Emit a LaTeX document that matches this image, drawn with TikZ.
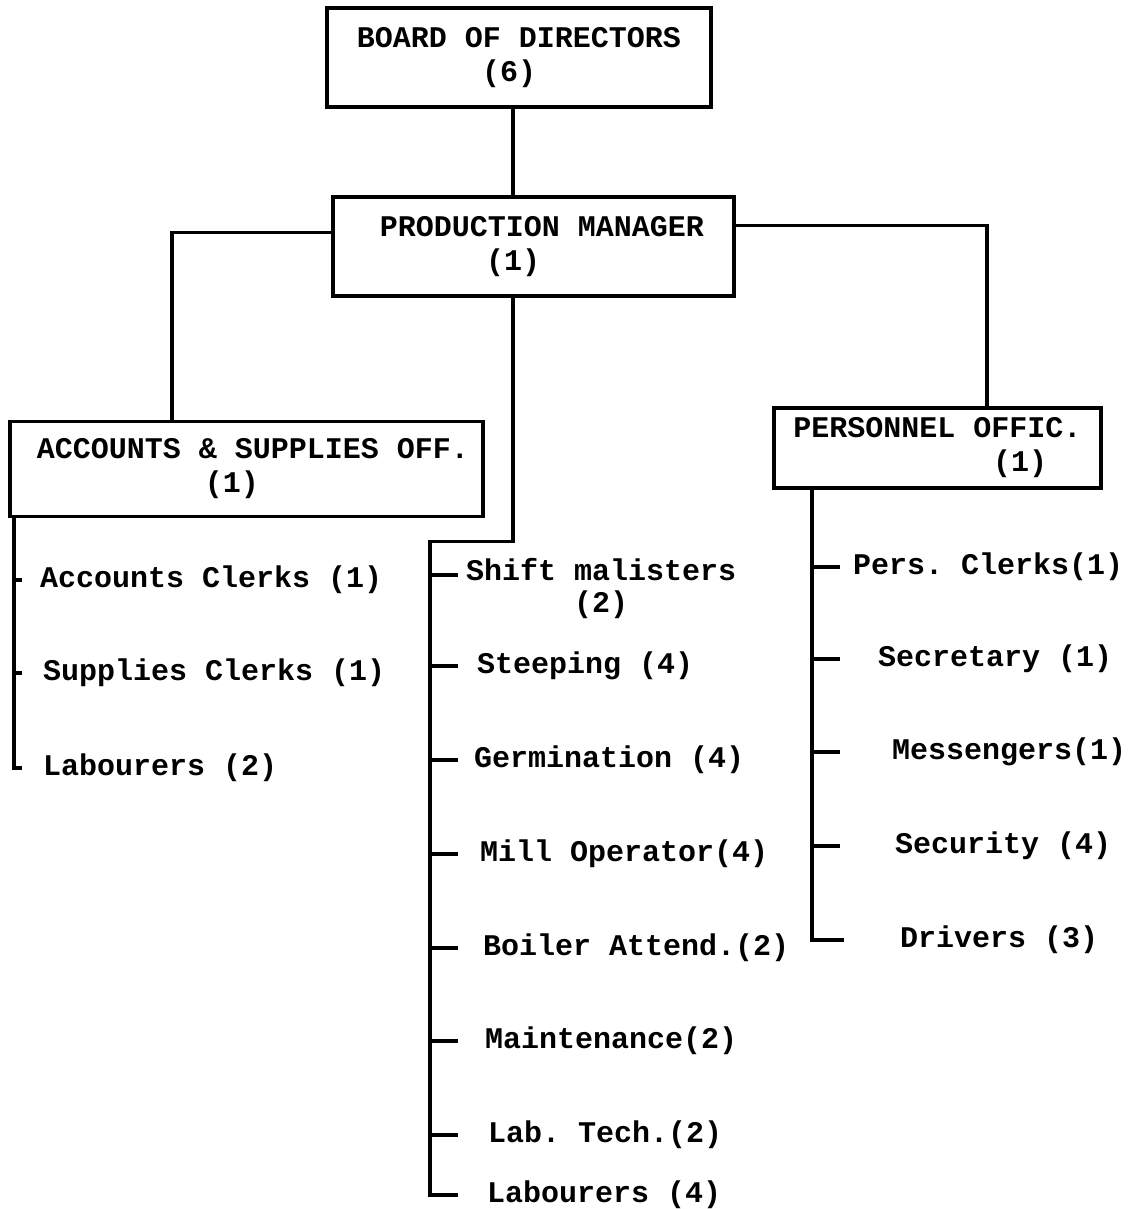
\documentclass[tikz,border=0pt]{standalone}
\usepackage{fontspec}
\setmonofont{Liberation Mono}
\usetikzlibrary{positioning}

\tikzset{
    post/.style={draw, line width=3.2pt, align=center, inner sep=0pt,
        font=\ttfamily\bfseries\fontsize{30}{34}\selectfont},
    staff/.style={anchor=west, inner sep=0pt, align=center,
        font=\ttfamily\bfseries\fontsize{30}{32}\selectfont},
    link/.style={line width=3.2pt},
}

\begin{document}
\begin{tikzpicture}[x=1pt,y=-1pt]
    \useasboundingbox (0,0) rectangle (1136,1209);

    %The offices
    \node[post, minimum width=384pt, minimum height=99pt] (board) at (519,57.5)
        {BOARD OF DIRECTORS\\(6)\hspace*{20pt}};
    \node[post, minimum width=401pt, minimum height=99pt] (pm) at (533.5,246.5)
        {\hspace*{17pt}PRODUCTION MANAGER\\(1)\hspace*{41pt}};
    \node[post, minimum width=473pt, minimum height=95pt] (acc) at (246.5,469)
        {\hspace*{13pt}ACCOUNTS \& SUPPLIES OFF.\\(1)\hspace*{29pt}};
    \node[post, minimum width=327pt, minimum height=80pt] (pers) at (937.5,448)
        {PERSONNEL OFFIC.\\\hspace*{165pt}(1)};

    %Staff under each office
    \node[staff] (acc-1) at (40,580) {Accounts Clerks (1)};
    \node[staff] (acc-2) at (43,673) {Supplies Clerks (1)};
    \node[staff] (acc-3) at (43,768) {Labourers (2)};

    \node[staff] (prod-1) at (466,589) {Shift malisters\\(2)};
    \node[staff] (prod-2) at (477,666) {Steeping (4)};
    \node[staff] (prod-3) at (474,760) {Germination (4)};
    \node[staff] (prod-4) at (480,854) {Mill Operator(4)};
    \node[staff] (prod-5) at (483,948) {Boiler Attend.(2)};
    \node[staff] (prod-6) at (485,1041) {Maintenance(2)};
    \node[staff] (prod-7) at (488,1135) {Lab. Tech.(2)};
    \node[staff] (prod-8) at (487,1195) {Labourers (4)};

    \node[staff] (pers-1) at (853,567) {Pers. Clerks(1)};
    \node[staff] (pers-2) at (878,659) {Secretary (1)};
    \node[staff] (pers-3) at (892,752) {Messengers(1)};
    \node[staff] (pers-4) at (895,846) {Security (4)};
    \node[staff] (pers-5) at (900,940) {Drivers (3)};

    %Where the vertical lines run
    \coordinate (spine) at (513,0);
    \coordinate (accdrop) at (172,0);
    \coordinate (persdrop) at (987,0);
    \coordinate (acctrunk) at (14,0);
    \coordinate (prodtrunk) at (430,0);
    \coordinate (perstrunk) at (812,0);

    \draw[link] (board.south -| spine) -- (pm.north -| spine);
    \draw[link] ([yshift=14pt]pm.west) -| (acc.north -| accdrop);
    \draw[link] ([yshift=21pt]pm.east) -| (pers.north -| persdrop);

    \draw[link] (acc.south -| acctrunk) -- (acc-3.west -| acctrunk) -- ++(8,0);
    \draw[link] (acc-1.west -| acctrunk) -- ++(8,0);
    \draw[link] (acc-2.west -| acctrunk) -- ++(8,0);

    \draw[link] (pm.south -| spine) -- ++(0,244) -| (prod-8.west -| prodtrunk) -- ++(28,0);
    \draw[link] (prod-1.west -| prodtrunk) ++(0,-14) -- ++(28,0);
    \draw[link] (prod-2.west -| prodtrunk) -- ++(28,0);
    \draw[link] (prod-3.west -| prodtrunk) -- ++(28,0);
    \draw[link] (prod-4.west -| prodtrunk) -- ++(28,0);
    \draw[link] (prod-5.west -| prodtrunk) -- ++(28,0);
    \draw[link] (prod-6.west -| prodtrunk) -- ++(28,0);
    \draw[link] (prod-7.west -| prodtrunk) -- ++(28,0);

    \draw[link] (pers.south -| perstrunk) -- (pers-5.west -| perstrunk) -- ++(32,0);
    \draw[link] (pers-1.west -| perstrunk) -- ++(28,0);
    \draw[link] (pers-2.west -| perstrunk) -- ++(28,0);
    \draw[link] (pers-3.west -| perstrunk) -- ++(28,0);
    \draw[link] (pers-4.west -| perstrunk) -- ++(28,0);
\end{tikzpicture}
\end{document}
